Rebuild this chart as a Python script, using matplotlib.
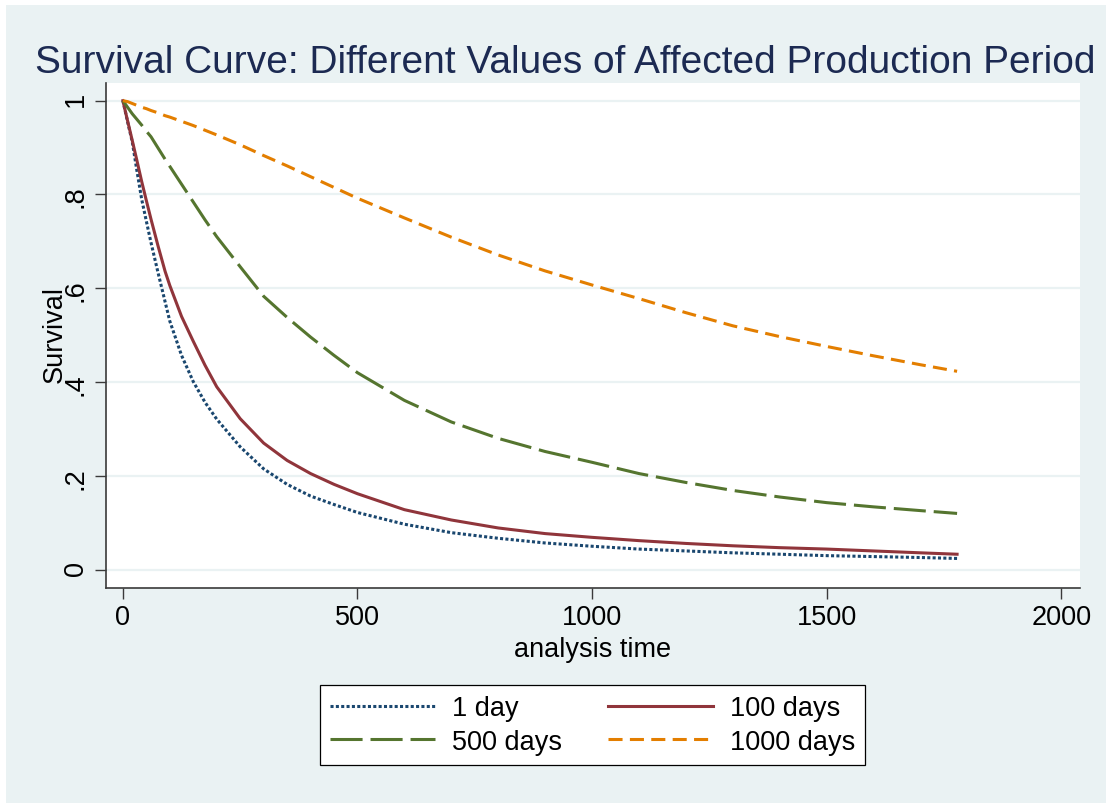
import matplotlib
matplotlib.use("Agg")
import matplotlib.pyplot as plt
from matplotlib.patches import Rectangle

plt.rcParams['font.family'] = ['Liberation Sans', 'DejaVu Sans']

# ---- data ----
analysis_time = [0, 10, 20, 30, 40, 50, 60, 75, 90, 100, 125, 150, 175, 200, 250, 300,
                 350, 400, 450, 500, 600, 700, 800, 900, 1000, 1100, 1200, 1300, 1400,
                 1500, 1600, 1700, 1778]
surv_1day = [1.0, 0.955, 0.912, 0.85, 0.79, 0.743, 0.697, 0.633, 0.571, 0.53, 0.457,
             0.401, 0.357, 0.321, 0.262, 0.215, 0.182, 0.157, 0.139, 0.122, 0.097,
             0.079, 0.067, 0.057, 0.050, 0.044, 0.040, 0.036, 0.033, 0.030, 0.028,
             0.026, 0.024]
surv_100days = [1.0, 0.957, 0.915, 0.872, 0.828, 0.787, 0.747, 0.69, 0.636, 0.606, 0.54,
                0.487, 0.436, 0.39, 0.322, 0.27, 0.233, 0.205, 0.182, 0.162, 0.128,
                0.106, 0.089, 0.077, 0.069, 0.062, 0.056, 0.051, 0.047, 0.044, 0.040,
                0.036, 0.033]
surv_500days = [1.0, 0.986, 0.972, 0.96, 0.948, 0.935, 0.923, 0.899, 0.875, 0.86, 0.822,
                0.784, 0.746, 0.71, 0.646, 0.583, 0.538, 0.496, 0.457, 0.42, 0.361,
                0.315, 0.28, 0.252, 0.229, 0.205, 0.186, 0.169, 0.155, 0.143, 0.134,
                0.126, 0.120]
surv_1000days = [1.0, 0.998, 0.994, 0.99, 0.986, 0.983, 0.979, 0.974, 0.968, 0.965, 0.956,
                 0.947, 0.937, 0.927, 0.906, 0.883, 0.861, 0.838, 0.815, 0.792, 0.75,
                 0.709, 0.671, 0.637, 0.607, 0.578, 0.548, 0.52, 0.497, 0.476, 0.456,
                 0.437, 0.423]
series_labels = ['1 day', '100 days', '500 days', '1000 days']
x_ticks = [0, 500, 1000, 1500, 2000]
y_ticks = [0, 0.2, 0.4, 0.6, 0.8, 1.0]
y_ticklabels = ['0', '.2', '.4', '.6', '.8', '1']

title = 'Survival Curve: Different Values of Affected Production Period'

# ---- styling ----
BG = '#EAF2F3'
W, H = 1106, 804
fig = plt.figure(figsize=(W / 100, H / 100), dpi=100)
fig.patch.set_facecolor('white')
fig.add_artist(Rectangle((6 / W, 0), 1, 1 - 6 / H, transform=fig.transFigure,
                         facecolor=BG, edgecolor='none', zorder=-10))

ax = fig.add_axes([106 / W, 1 - 589 / H, (1080 - 106) / W, (589 - 84) / H])
ax.set_facecolor('white')

lw = 2.2
h1, = ax.plot(analysis_time, surv_1day, color='#1A476F', lw=lw, ls=(0, (1.0, 0.75)),
              dash_capstyle='butt', label=series_labels[0])
h2, = ax.plot(analysis_time, surv_100days, color='#90353B', lw=lw, ls='-',
              label=series_labels[1])
h3, = ax.plot(analysis_time, surv_500days, color='#55752F', lw=lw, ls=(0, (10.5, 2.6)),
              label=series_labels[2])
h4, = ax.plot(analysis_time, surv_1000days, color='#E37E00', lw=lw, ls=(0, (4.6, 2.4)),
              label=series_labels[3])

ax.set_xlim(-36, 2040)
ax.set_ylim(-0.039, 1.0377)
ax.set_xticks(x_ticks)
ax.set_yticks(y_ticks)
ax.set_yticklabels(y_ticklabels)
ax.grid(axis='y', color=BG, lw=1.6, zorder=0)
ax.set_axisbelow(True)

for s in ['top', 'right']:
    ax.spines[s].set_visible(False)
for s in ['left', 'bottom']:
    ax.spines[s].set_color('#3a3a3a')
    ax.spines[s].set_linewidth(1.2)

fs = 19.5
ax.tick_params(axis='both', direction='out', length=8, width=1.0, color='#3a3a3a',
               labelsize=fs, labelcolor='black')
ax.tick_params(axis='x', pad=3.5)
ax.tick_params(axis='y', pad=4.3, labelrotation=90)

ax.set_xlabel('analysis time', fontsize=fs, va='center')
ax.xaxis.set_label_coords(0.5, -0.12)
ax.set_ylabel('Survival', fontsize=fs, va='center')
ax.yaxis.set_label_coords(-0.0529, 0.503)

fig.text(565 / W, 1 - 73 / H, title, ha='center', va='baseline', fontsize=28,
         color='#1C2A52')

# row-wise legend order: (1 day, 100 days) / (500 days, 1000 days)
leg = fig.legend([h1, h3, h2, h4],
                 [series_labels[0], series_labels[2], series_labels[1], series_labels[3]],
                 loc='center', bbox_to_anchor=(592.5 / W, 1 - 726 / H), ncol=2,
                 fontsize=fs, frameon=True, fancybox=False, shadow=False,
                 handlelength=3.87, handletextpad=0.63, columnspacing=1.7,
                 borderpad=0.37, labelspacing=0.26)
frame = leg.get_frame()
frame.set_edgecolor('black')
frame.set_linewidth(0.9)
frame.set_facecolor('white')
frame.set_alpha(1)

fig.savefig('out.png', dpi=100, facecolor=fig.get_facecolor())
